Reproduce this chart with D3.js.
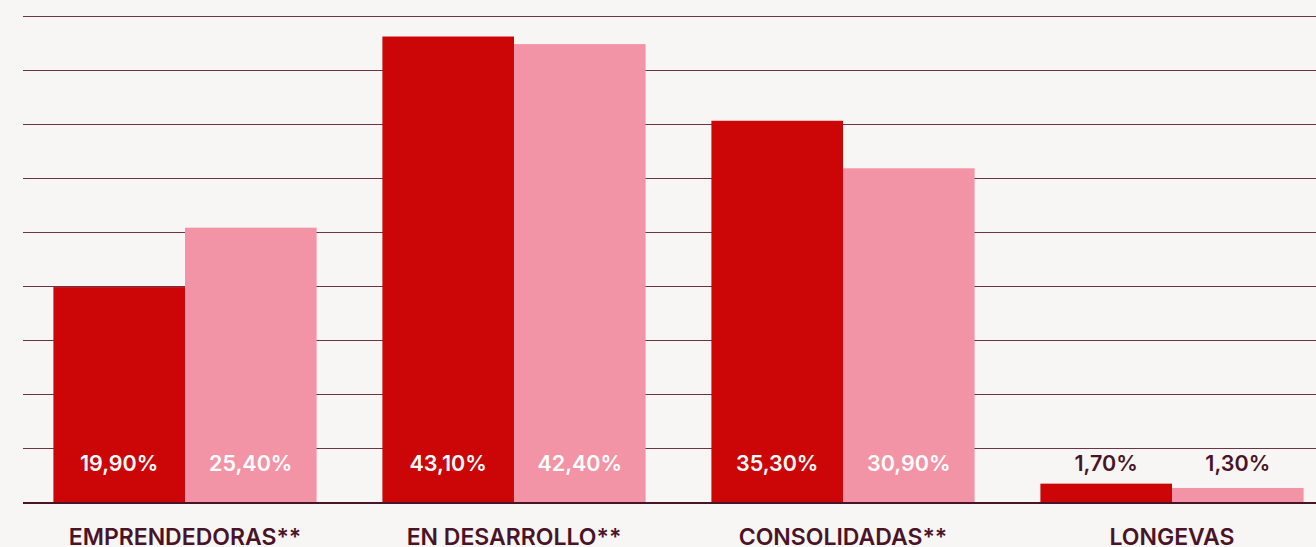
<!DOCTYPE html>
<html>
<head>
<meta charset="utf-8">
<script src="https://cdn.jsdelivr.net/npm/d3@7"></script>
<style>
  html, body { margin: 0; padding: 0; background: #f7f6f4; overflow: hidden; }
  svg { display: block; }
</style>
</head>
<body>
<div id="chart"></div>
<script>
const categories = ["EMPRENDEDORAS**", "EN DESARROLLO**", "CONSOLIDADAS**", "LONGEVAS"];
const seriesA = [19.9, 43.1, 35.3, 1.7];
const seriesB = [25.4, 42.4, 30.9, 1.3];
const gridTicks = [5, 10, 15, 20, 25, 30, 35, 40, 45];

const width = 1316, height = 547;
const baseY = 502;

const svg = d3.select("#chart").append("svg")
  .attr("width", width)
  .attr("height", height)
  .style("background", "#f7f6f4");

const x0 = d3.scaleBand()
  .domain(categories)
  .range([20.5, 1336.5])
  .paddingInner(0.2)
  .paddingOuter(0.1);

const x1 = d3.scaleBand()
  .domain(["a", "b"])
  .range([0, x0.bandwidth()]);

const y = d3.scaleLinear()
  .domain([0, 45])
  .range([baseY, 16]);

// gridlines
svg.append("g")
  .selectAll("line")
  .data(gridTicks)
  .join("line")
  .attr("x1", 23)
  .attr("x2", width)
  .attr("y1", d => Math.round(y(d)) + 0.5)
  .attr("y2", d => Math.round(y(d)) + 0.5)
  .attr("stroke", "#6a3446")
  .attr("stroke-width", 1);

const colors = { a: "#cc0506", b: "#f394a6" };

const rows = categories.map((c, i) => ({ cat: c, vals: [
  { key: "a", v: seriesA[i] },
  { key: "b", v: seriesB[i] }
]}));

const groups = svg.append("g")
  .selectAll("g")
  .data(rows)
  .join("g")
  .attr("transform", d => `translate(${x0(d.cat)},0)`);

groups.selectAll("rect")
  .data(d => d.vals)
  .join("rect")
  .attr("x", d => x1(d.key))
  .attr("width", x1.bandwidth())
  .attr("y", d => y(d.v))
  .attr("height", d => baseY - y(d.v))
  .attr("fill", d => colors[d.key]);

groups.selectAll("text")
  .data(d => d.vals)
  .join("text")
  .attr("x", d => x1(d.key) + x1.bandwidth() / 2)
  .attr("y", 471)
  .attr("text-anchor", "middle")
  .attr("font-family", "Inter, sans-serif")
  .attr("font-weight", 600)
  .attr("font-size", 21.5)
  .attr("fill", d => (y(d.v) < 440 ? "#ffffff" : "#4a1428"))
  .text(d => d.v.toFixed(2).replace(".", ",") + "%");

// baseline
svg.append("line")
  .attr("x1", 23)
  .attr("x2", width)
  .attr("y1", baseY + 1)
  .attr("y2", baseY + 1)
  .attr("stroke", "#4a1428")
  .attr("stroke-width", 2);

// category labels
svg.append("g")
  .selectAll("text")
  .data(categories)
  .join("text")
  .attr("x", d => x0(d) + x0.bandwidth() / 2)
  .attr("y", 545)
  .attr("text-anchor", "middle")
  .attr("font-family", "Inter, sans-serif")
  .attr("font-weight", 600)
  .attr("font-size", 23)
  .attr("fill", "#4a1428")
  .text(d => d);
</script>
</body>
</html>
